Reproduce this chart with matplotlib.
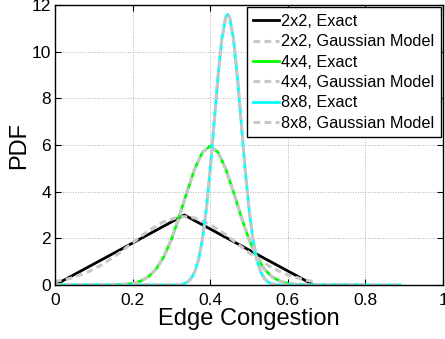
import matplotlib
matplotlib.use("Agg")
import matplotlib.pyplot as plt

plt.rcParams['font.family'] = ['Liberation Sans', 'DejaVu Sans']

# 2x2 network: exact triangular pdf and its gaussian fit
x_2x2_exact = [0.0, 0.3333, 0.6667]
y_2x2_exact = [0.0, 3.0, 0.0]
x_2x2_gauss = [0.0, 0.04, 0.08, 0.12, 0.16, 0.20, 0.24, 0.28, 0.32, 0.3333,
               0.36, 0.40, 0.44, 0.48, 0.52, 0.56, 0.60, 0.64, 0.6667]
y_2x2_gauss = [0.146, 0.286, 0.517, 0.856, 1.301, 1.812, 2.315, 2.713, 2.916, 2.93,
               2.874, 2.599, 2.154, 1.638, 1.142, 0.731, 0.429, 0.231, 0.146]

# 4x4 network
x_4x4 = [0.0, 0.14, 0.16, 0.18, 0.20, 0.22, 0.24, 0.26, 0.28, 0.30, 0.32, 0.34,
         0.36, 0.38, 0.40, 0.42, 0.44, 0.46, 0.48, 0.50, 0.52, 0.54, 0.56,
         0.58, 0.60, 0.62, 0.64, 0.66, 0.80]
y_4x4_exact = [0.0, 0.0, 0.01, 0.027, 0.069, 0.161, 0.344, 0.67, 1.197, 1.953, 2.917,
               3.985, 4.979, 5.69, 5.95, 5.69, 4.979, 3.985, 2.917, 1.953, 1.197,
               0.67, 0.344, 0.161, 0.069, 0.027, 0.01, 0.0, 0.0]
y_4x4_gauss = [0.0, 0.003, 0.01, 0.027, 0.069, 0.161, 0.344, 0.67, 1.197, 1.953, 2.917,
               3.985, 4.979, 5.69, 5.95, 5.69, 4.979, 3.985, 2.917, 1.953, 1.197,
               0.67, 0.344, 0.161, 0.069, 0.027, 0.01, 0.003, 0.0]

# 8x8 network
x_8x8 = [0.0, 0.32, 0.33, 0.34, 0.35, 0.36, 0.37, 0.38, 0.39, 0.40, 0.41, 0.42,
         0.43, 0.44, 0.445, 0.45, 0.46, 0.47, 0.48, 0.49, 0.50, 0.51, 0.52,
         0.53, 0.54, 0.55, 0.56, 0.57, 0.58, 0.889]
y_8x8_exact = [0.0, 0.0, 0.045, 0.113, 0.262, 0.558, 1.092, 1.966, 3.255, 4.954,
               6.933, 8.922, 10.554, 11.48, 11.6, 11.48, 10.554, 8.922, 6.933,
               4.954, 3.255, 1.966, 1.092, 0.558, 0.262, 0.113, 0.045, 0.015, 0.0, 0.0]
y_8x8_gauss = [0.0, 0.012, 0.045, 0.113, 0.262, 0.558, 1.092, 1.966, 3.255, 4.954,
               6.933, 8.922, 10.554, 11.48, 11.6, 11.48, 10.554, 8.922, 6.933,
               4.954, 3.255, 1.966, 1.092, 0.558, 0.262, 0.113, 0.045, 0.015, 0.004, 0.0]

x_ticks = [0, 0.2, 0.4, 0.6, 0.8, 1]
x_ticklabels = ['0', '0.2', '0.4', '0.6', '0.8', '1']
y_ticks = [0, 2, 4, 6, 8, 10, 12]

gray = '#c8c8c8'
dash = (2.2, 1.4)

fig = plt.figure(figsize=(4.45, 3.39), dpi=100)
ax = fig.add_axes([0.1236, 0.1593, 0.8720, 0.8259])

ax.plot(x_2x2_exact, y_2x2_exact, color='black', lw=2.0, label='2x2, Exact')
ax.plot(x_2x2_gauss, y_2x2_gauss, color=gray, lw=2.2, dashes=dash, label='2x2, Gaussian Model')
ax.plot(x_4x4, y_4x4_exact, color='#00ff00', lw=2.0, label='4x4, Exact')
ax.plot(x_4x4, y_4x4_gauss, color=gray, lw=2.2, dashes=dash, label='4x4, Gaussian Model')
ax.plot(x_8x8, y_8x8_exact, color='#00ffff', lw=2.0, label='8x8, Exact')
ax.plot(x_8x8, y_8x8_gauss, color=gray, lw=2.2, dashes=dash, label='8x8, Gaussian Model')

ax.set_xlim(0, 1)
ax.set_ylim(0, 12)
ax.set_xticks(x_ticks)
ax.set_xticklabels(x_ticklabels)
ax.set_yticks(y_ticks)
ax.tick_params(direction='in', top=True, right=True, length=4, width=0.8,
               labelsize=12.5, pad=3)
ax.tick_params(axis='x', pad=6)
ax.grid(True, linestyle=(0, (1, 2)), color='#999999', lw=0.6)
for s in ax.spines.values():
    s.set_linewidth(1.0)

ax.set_xlabel('Edge Congestion', fontsize=17, labelpad=0)
ax.set_ylabel('PDF', fontsize=17, labelpad=1)

leg = ax.legend(loc='upper right', fontsize=11.7, frameon=True, fancybox=False,
                framealpha=1, edgecolor='black', borderaxespad=0.15,
                handlelength=1.6, handletextpad=0.1, labelspacing=0.33,
                borderpad=0.4)
leg.get_frame().set_linewidth(1.0)

fig.savefig('out.png', dpi=100)
